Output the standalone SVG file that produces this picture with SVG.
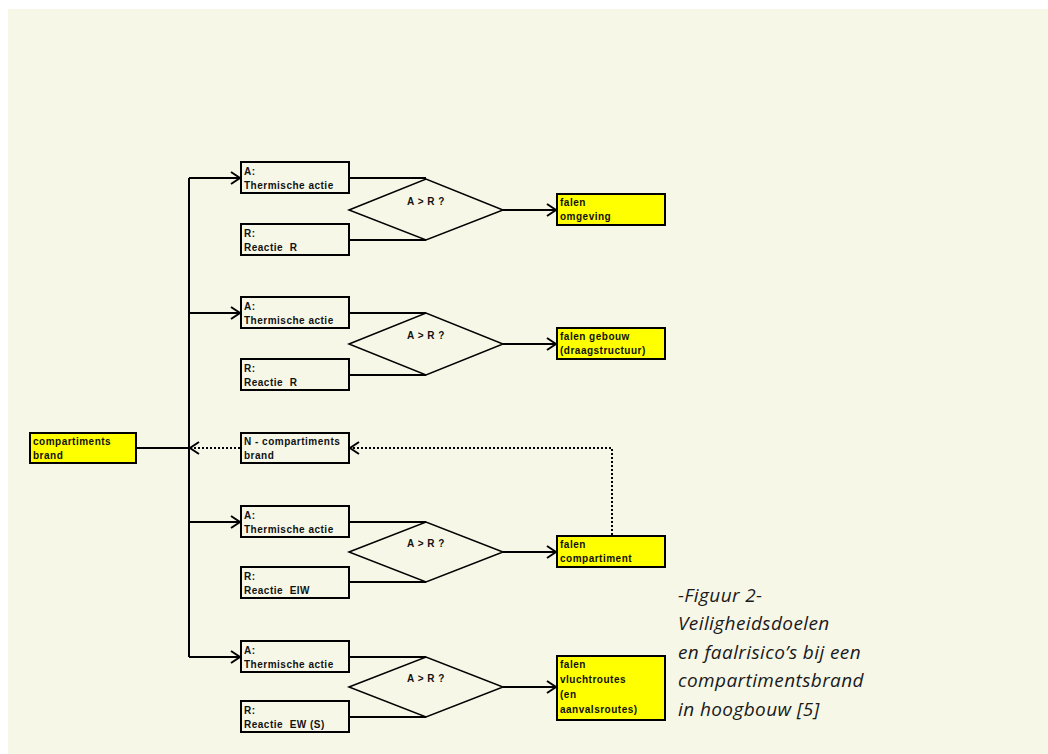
<svg xmlns="http://www.w3.org/2000/svg" width="1048" height="754" viewBox="0 0 1048 754">
<defs>
<style>
.bg{fill:#f7f7e8}
.box{fill:#f7f7e8;stroke:#000;stroke-width:2}
.ybox{fill:#ffff00;stroke:#000;stroke-width:2}
.dia{fill:#f7f7e8;stroke:#000;stroke-width:1.5}
.t{font-family:"Liberation Sans",Arial,sans-serif;font-weight:bold;font-size:10px;letter-spacing:0.5px;fill:#111;white-space:pre}
.ln{fill:none;stroke:#000;stroke-width:2}
.dot{fill:none;stroke:#000;stroke-width:2;stroke-dasharray:2 2}
.cap{font-family:"Open Sans","Noto Sans",sans-serif;font-style:italic;font-size:19px;letter-spacing:0.4px;fill:#1a1a1a}
</style>
<marker id="ah" markerUnits="userSpaceOnUse" markerWidth="14" markerHeight="14" refX="11" refY="7" orient="auto">
<path d="M2,1 L11,7 L2,13" fill="none" stroke="#000" stroke-width="2"/>
</marker>
</defs>
<rect class="bg" x="8" y="9" width="1040" height="745"/>

<g id="connectors">
<path class="ln" d="M189,178 V657"/>
<path class="ln" d="M189,178 H240" marker-end="url(#ah)"/>
<path class="ln" d="M189,313 H240" marker-end="url(#ah)"/>
<path class="ln" d="M189,522 H240" marker-end="url(#ah)"/>
<path class="ln" d="M189,657 H240" marker-end="url(#ah)"/>
<path class="ln" d="M136,448 H189"/>
<path class="dot" d="M240,448 H190" marker-end="url(#ah)"/>
<path class="dot" d="M612,535 V448 H350" marker-end="url(#ah)"/>
<path class="ln" d="M349,178 H426"/>
<path class="ln" d="M349,240 H426"/>
<path class="ln" d="M349,313 H426"/>
<path class="ln" d="M349,375 H426"/>
<path class="ln" d="M349,522 H426"/>
<path class="ln" d="M349,582 H426"/>
<path class="ln" d="M349,657 H426"/>
<path class="ln" d="M349,717 H426"/>
<path class="ln" d="M503,210 H556" marker-end="url(#ah)"/>
<path class="ln" d="M503,344 H556" marker-end="url(#ah)"/>
<path class="ln" d="M503,552 H556" marker-end="url(#ah)"/>
<path class="ln" d="M503,687 H556" marker-end="url(#ah)"/>
</g>

<g id="n-start">
<rect class="ybox" x="30" y="433" width="106" height="30"/>
<text class="t" x="33" y="445">compartiments</text>
<text class="t" x="33" y="459">brand</text>
</g>

<g id="a1"><rect class="box" x="241" y="162" width="108" height="31"/>
<text class="t" x="244" y="175">A:</text><text class="t" x="244" y="189">Thermische actie</text></g>
<g id="r1"><rect class="box" x="241" y="224" width="108" height="31"/>
<text class="t" x="244" y="237">R:</text><text class="t" x="244" y="251" xml:space="preserve">Reactie  R</text></g>
<g id="d1"><polygon class="dia" points="349,210 426,179 503,210 426,240"/>
<text class="t" x="426" y="205" text-anchor="middle">A &gt; R ?</text></g>
<g id="f1"><rect class="ybox" x="557" y="194" width="108" height="31"/>
<text class="t" x="560" y="206">falen</text><text class="t" x="560" y="220">omgeving</text></g>

<g id="a2"><rect class="box" x="241" y="297" width="108" height="31"/>
<text class="t" x="244" y="310">A:</text><text class="t" x="244" y="324">Thermische actie</text></g>
<g id="r2"><rect class="box" x="241" y="359" width="108" height="31"/>
<text class="t" x="244" y="372">R:</text><text class="t" x="244" y="386" xml:space="preserve">Reactie  R</text></g>
<g id="d2"><polygon class="dia" points="349,344 426,313 503,344 426,375"/>
<text class="t" x="426" y="339" text-anchor="middle">A &gt; R ?</text></g>
<g id="f2"><rect class="ybox" x="557" y="328" width="108" height="31"/>
<text class="t" x="560" y="340">falen gebouw</text><text class="t" x="560" y="354">(draagstructuur)</text></g>

<g id="n-comp"><rect class="box" x="241" y="433" width="108" height="30"/>
<text class="t" x="244" y="445">N - compartiments</text><text class="t" x="244" y="459">brand</text></g>

<g id="a3"><rect class="box" x="241" y="506" width="108" height="31"/>
<text class="t" x="244" y="519">A:</text><text class="t" x="244" y="533">Thermische actie</text></g>
<g id="r3"><rect class="box" x="241" y="567" width="108" height="31"/>
<text class="t" x="244" y="580">R:</text><text class="t" x="244" y="594" xml:space="preserve">Reactie  EIW</text></g>
<g id="d3"><polygon class="dia" points="349,552 426,522 503,552 426,582"/>
<text class="t" x="426" y="547" text-anchor="middle">A &gt; R ?</text></g>
<g id="f3"><rect class="ybox" x="557" y="536" width="108" height="31"/>
<text class="t" x="560" y="548">falen</text><text class="t" x="560" y="562">compartiment</text></g>

<g id="a4"><rect class="box" x="241" y="641" width="108" height="31"/>
<text class="t" x="244" y="654">A:</text><text class="t" x="244" y="668">Thermische actie</text></g>
<g id="r4"><rect class="box" x="241" y="701" width="108" height="31"/>
<text class="t" x="244" y="714">R:</text><text class="t" x="244" y="728" xml:space="preserve">Reactie  EW (S)</text></g>
<g id="d4"><polygon class="dia" points="349,687 426,657 503,687 426,717"/>
<text class="t" x="426" y="682" text-anchor="middle">A &gt; R ?</text></g>
<g id="f4"><rect class="ybox" x="557" y="656" width="108" height="64"/>
<text class="t" x="560" y="668">falen</text><text class="t" x="560" y="683">vluchtroutes</text>
<text class="t" x="560" y="698">(en</text><text class="t" x="560" y="713">aanvalsroutes)</text></g>

<g id="caption">
<text class="cap" x="678" y="602">-Figuur 2-</text>
<text class="cap" x="678" y="630">Veiligheidsdoelen</text>
<text class="cap" x="678" y="659">en faalrisico’s bij een</text>
<text class="cap" x="678" y="687">compartimentsbrand</text>
<text class="cap" x="678" y="716">in hoogbouw [5]</text>
</g>
</svg>
